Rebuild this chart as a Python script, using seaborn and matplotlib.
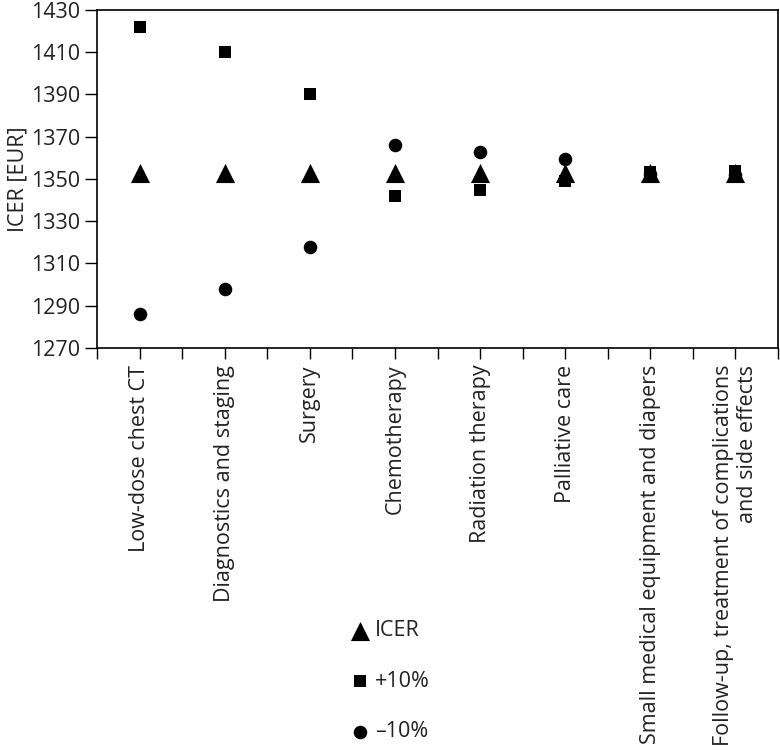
import matplotlib
matplotlib.use("Agg")
import matplotlib.pyplot as plt
import seaborn as sns
import numpy as np
import pandas as pd

categories = [
    "Low-dose chest CT",
    "Diagnostics and staging",
    "Surgery",
    "Chemotherapy",
    "Radiation therapy",
    "Palliative care",
    "Small medical equipment and diapers",
    "Follow-up, treatment of complications\nand side effects",
]
icer = [1353, 1353, 1353, 1353, 1353, 1353, 1353, 1353]
plus10 = [1422, 1410, 1390, 1342, 1345, 1349, 1353.5, 1354]
minus10 = [1286, 1298, 1318, 1366, 1363, 1359.5, 1352.5, 1352]
yticks = [1270, 1290, 1310, 1330, 1350, 1370, 1390, 1410, 1430]

sns.set_theme(style="white")
plt.rcParams["font.family"] = ["Open Sans", "DejaVu Sans"]

FS = 15.5
TXT = "#222222"

fig = plt.figure(figsize=(7.8, 7.5), dpi=100)
ax = fig.add_axes([97/780, 1-348/750, (778-97)/780, (348-10)/750])

df = pd.DataFrame({"cat": categories, "ICER": icer, "+10%": plus10, "-10%": minus10})

sns.scatterplot(data=df, x="cat", y="-10%", marker="o", s=95, color="black",
                edgecolor="black", linewidth=0, ax=ax, label="\u201310%", zorder=3)
sns.scatterplot(data=df, x="cat", y="ICER", marker="^", s=190, color="black",
                edgecolor="black", linewidth=0, ax=ax, label="ICER", zorder=4)
sns.scatterplot(data=df, x="cat", y="+10%", marker="s", s=85, color="black",
                edgecolor="black", linewidth=0, ax=ax, label="+10%", zorder=5)

ax.set_xlim(-0.5, len(categories) - 0.5)
ax.set_ylim(1270, 1430)
ax.set_yticks(yticks)
ax.set_yticklabels([str(v) for v in yticks], fontsize=FS, color=TXT)
ax.set_xticks(range(len(categories)))
ax.set_xticklabels(categories, rotation=90, fontsize=FS, color=TXT,
                   va="top", ha="center", multialignment="right")
ax.set_xticks(np.arange(-0.5, len(categories), 1), minor=True)
ax.tick_params(axis="x", which="both", direction="out", length=8, width=1, color="black",
               bottom=True, pad=4)
ax.tick_params(axis="y", direction="out", length=9, width=1, color="black", left=True, pad=3)
ax.set_xlabel("")
ax.set_ylabel("ICER [EUR]", fontsize=FS, color=TXT, labelpad=2)
for sp in ax.spines.values():
    sp.set_visible(True)
    sp.set_color("black")
    sp.set_linewidth(1.2)

handles, labels = ax.get_legend_handles_labels()
order = [1, 2, 0]
ax.legend_.remove()
leg = fig.legend([handles[i] for i in order], [labels[i] for i in order],
                 loc="upper left", bbox_to_anchor=(328/780, 1-601/750), frameon=False,
                 fontsize=FS, labelspacing=1.37, handletextpad=0.1, handlelength=1.2,
                 labelcolor=TXT)
for h, s in zip(leg.legend_handles, [190, 85, 95]):
    h.set_sizes([s])

fig.savefig("out.png", dpi=100)
